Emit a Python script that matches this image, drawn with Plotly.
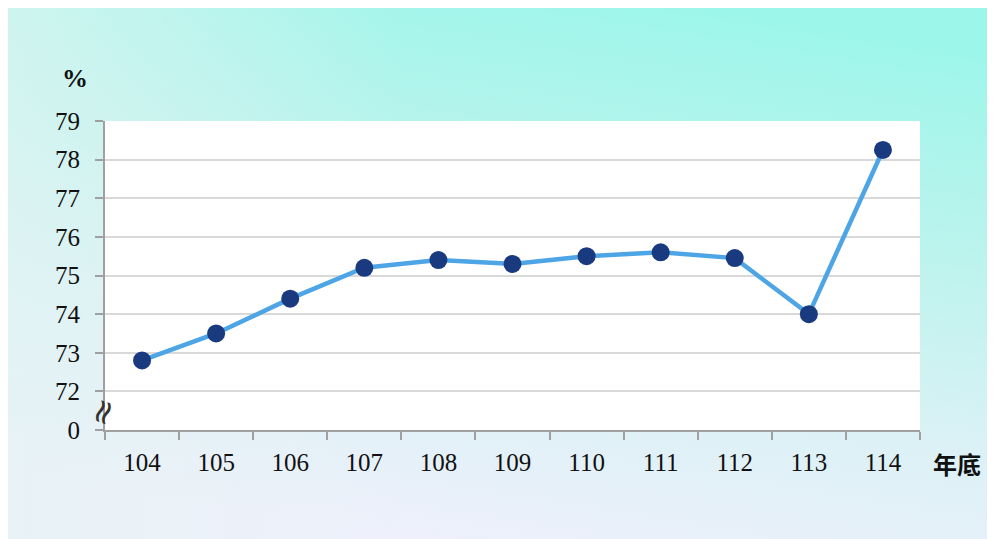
import plotly.graph_objects as go
import base64

years = ["104", "105", "106", "107", "108", "109", "110", "111", "112", "113", "114"]
rates = [72.8, 73.5, 74.4, 75.2, 75.4, 75.3, 75.5, 75.6, 75.45, 74.0, 78.25]
y_tickvals = [71, 72, 73, 74, 75, 76, 77, 78, 79]
y_ticktext = ["0", "72", "73", "74", "75", "76", "77", "78", "79"]

svg = """<svg xmlns='http://www.w3.org/2000/svg' width='1000' height='540' viewBox='0 0 1000 540' preserveAspectRatio='none'>
<defs>
<linearGradient id='g' x1='0.7' y1='0' x2='0.4' y2='1'>
<stop offset='0' stop-color='#9df6ea'/>
<stop offset='0.35' stop-color='#bbf3ed'/>
<stop offset='0.7' stop-color='#dcf1f6'/>
<stop offset='1' stop-color='#eef0fb'/>
</linearGradient>
<linearGradient id='h' x1='0' y1='0' x2='1' y2='0'>
<stop offset='0' stop-color='#e4f4f2' stop-opacity='0.6'/>
<stop offset='0.4' stop-color='#e4f4f2' stop-opacity='0'/>
</linearGradient>
</defs>
<rect width='1000' height='540' fill='url(#g)'/>
<rect width='1000' height='540' fill='url(#h)'/>
</svg>"""
src = "data:image/svg+xml;base64," + base64.b64encode(svg.encode()).decode()

W, H = 987, 531
L, R, T, B = 97, 75, 113, 109
pw, ph = W - L - R, H - T - B

def px(x):
    return (x - 8 - L) / pw

def py(y):
    return (H - B - (y - 8)) / ph

fig = go.Figure()
fig.add_trace(go.Scatter(
    x=years, y=rates, mode="lines+markers",
    line=dict(color="#4da5e6", width=4.5),
    marker=dict(color="#1a3a80", size=18, line=dict(width=0)),
    showlegend=False, hoverinfo="skip"
))

fig.add_layout_image(dict(
    source=src, xref="paper", yref="paper",
    x=-L / pw, y=(H - B) / ph,
    sizex=W / pw, sizey=H / ph,
    xanchor="left", yanchor="top", sizing="stretch", layer="below"
))
fig.add_shape(type="rect", xref="paper", yref="paper", x0=0, x1=1, y0=0, y1=1,
              fillcolor="white", line=dict(width=0), layer="below")

fig.update_layout(
    width=W, height=H,
    margin=dict(l=L, r=R, t=T, b=B, pad=0),
    paper_bgcolor="white", plot_bgcolor="white",
    font=dict(family="Liberation Serif, Times New Roman, serif", color="#111111"),
    xaxis=dict(
        type="category", range=[-0.5, 10.5], showgrid=False,
        showline=True, linecolor="#a0a0a0", linewidth=2,
        ticks="outside", tickson="boundaries", ticklen=8, tickcolor="#a0a0a0", tickwidth=2,
        tickfont=dict(size=25, family="Liberation Serif, serif", color="#111111"),
        ticklabelstandoff=9, zeroline=False,
    ),
    yaxis=dict(
        range=[71, 79], tickvals=y_tickvals, ticktext=y_ticktext,
        showgrid=True, gridcolor="#d9d9d9", gridwidth=2,
        showline=True, linecolor="#a0a0a0", linewidth=2,
        ticks="outside", ticklen=8, tickcolor="#a0a0a0", tickwidth=2,
        tickfont=dict(size=25, family="Liberation Serif, serif", color="#111111"),
        ticklabelstandoff=10, zeroline=False,
    ),
    annotations=[
        dict(text="<b>%</b>", xref="paper", yref="paper", x=px(75), y=py(78),
             xanchor="center", yanchor="middle", showarrow=False,
             font=dict(size=26, family="Liberation Serif, serif", color="#111111")),
        dict(text="<b>年底</b>", xref="paper", yref="paper", x=px(957), y=py(463),
             xanchor="center", yanchor="middle", showarrow=False,
             font=dict(size=24, family="Noto Sans CJK TC, serif", color="#111111")),
        dict(text="≈", xref="paper", yref="paper", x=px(102), y=py(412),
             xanchor="center", yanchor="middle", showarrow=False, textangle=-70,
             font=dict(size=34, family="DejaVu Sans", color="#333333")),
    ],
)

fig.write_html("out.html")
